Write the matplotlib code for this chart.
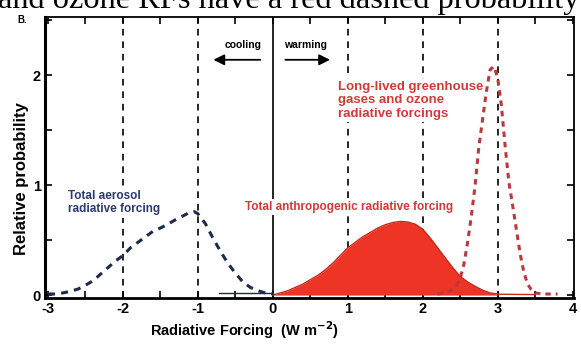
import numpy as np
import matplotlib
matplotlib.use('Agg')
import matplotlib.pyplot as plt

plt.rcParams['font.family'] = ['Liberation Sans', 'DejaVu Sans']
plt.rcParams['axes.unicode_minus'] = False

# aerosol forcing pdf
aer_x = [-3.0, -2.9, -2.8, -2.7, -2.6, -2.5, -2.4, -2.3, -2.2, -2.1, -2.0,
         -1.9, -1.8, -1.7, -1.6, -1.5, -1.4, -1.3, -1.2, -1.1, -1.05, -1.0,
         -0.9, -0.8, -0.7, -0.6, -0.5, -0.4, -0.3, -0.2, -0.1, 0.0]
aer_y = [0.01, 0.01, 0.02, 0.035, 0.055, 0.09, 0.13, 0.19, 0.25, 0.31, 0.36,
         0.43, 0.48, 0.53, 0.58, 0.61, 0.645, 0.685, 0.72, 0.755, 0.76, 0.74,
         0.65, 0.52, 0.40, 0.29, 0.20, 0.12, 0.07, 0.04, 0.02, 0.01]
aer_tail_x = [-0.72, 0.0]
aer_tail_y = [0.015, 0.015]

# total anthropogenic forcing pdf
ant_x = [0.0, 0.1, 0.2, 0.3, 0.4, 0.5, 0.6, 0.7, 0.8, 0.9, 1.0, 1.1, 1.2,
         1.3, 1.4, 1.5, 1.6, 1.7, 1.8, 1.9, 2.0, 2.1, 2.2, 2.3, 2.4, 2.5,
         2.6, 2.7, 2.8, 2.9, 3.0]
ant_y = [0.0, 0.02, 0.04, 0.07, 0.10, 0.14, 0.18, 0.23, 0.29, 0.36, 0.43,
         0.48, 0.53, 0.57, 0.61, 0.64, 0.66, 0.67, 0.665, 0.645, 0.60, 0.52,
         0.43, 0.34, 0.25, 0.17, 0.12, 0.08, 0.045, 0.02, 0.01]
ant_tail_x = [3.0, 3.5]
ant_tail_y = [0.008, 0.005]

# long-lived greenhouse gases and ozone pdf
ghg_x = [2.2, 2.3, 2.4, 2.45, 2.5, 2.55, 2.6, 2.65, 2.7, 2.75, 2.8, 2.85,
         2.9, 2.95, 3.0, 3.05, 3.1, 3.15, 3.2, 3.25, 3.3, 3.35, 3.4, 3.45,
         3.5, 3.6, 3.8]
ghg_y = [0.01, 0.02, 0.05, 0.08, 0.15, 0.28, 0.48, 0.72, 1.0, 1.35, 1.6, 1.85,
         2.05, 2.08, 1.98, 1.73, 1.36, 1.03, 0.82, 0.6, 0.38, 0.21, 0.1, 0.05,
         0.02, 0.01, 0.01]

ref_lines = [-2, -1, 1, 2, 3]
xticks = [-3, -2, -1, 0, 1, 2, 3, 4]
yticks = [0, 1, 2]

red_fill = '#ee3424'
red_edge = '#c42a1e'
red_dash = '#b83a3c'
red_text = '#d2393a'
navy = '#1d2a4c'
navy_text = '#2b3a6e'

fig = plt.figure(figsize=(5.81, 3.45), dpi=100)
ax = fig.add_axes([0.0775, 0.136, 0.9105, 0.815])

for xv in ref_lines:
    ax.axvline(xv, color='black', lw=1.2, ls=(0, (4, 3.5)), zorder=1)
ax.axvline(0, color='black', lw=1.2, zorder=1)

ax.fill_between(ant_x, ant_y, 0, color=red_fill, lw=0, zorder=3)
ax.plot(ant_x, ant_y, color=red_edge, lw=1.0, zorder=4)
ax.plot(ant_tail_x, ant_tail_y, color=red_edge, lw=1.0, zorder=4)

ax.plot(aer_x, aer_y, color=navy, lw=2.2, ls=(0, (2.3, 2.0)), zorder=4)
ax.plot(aer_tail_x, aer_tail_y, color=navy, lw=1.0, zorder=4)

ax.plot(ghg_x, ghg_y, color=red_dash, lw=2.2, ls=(0, (1.8, 1.6)), zorder=5)

box = dict(facecolor='white', edgecolor='none', pad=1.5)
ax.text(-2.73, 0.84, 'Total aerosol\nradiative forcing', color=navy_text,
        fontsize=8.5, fontweight='bold', linespacing=1.15, va='center',
        bbox=box, zorder=2)
ax.text(-0.37, 0.8, 'Total anthropogenic radiative forcing', color=red_text,
        fontsize=8.5, fontweight='bold', va='center', bbox=box, zorder=2)
ax.text(0.87, 1.77, 'Long-lived greenhouse\ngases and ozone\nradiative forcings',
        color=red_text, fontsize=9.5, fontweight='bold', linespacing=1.2,
        va='center', bbox=box, zorder=2)

ax.text(-0.4, 2.27, 'cooling', fontsize=7.5, fontweight='bold', ha='center', va='center')
ax.text(0.43, 2.27, 'warming', fontsize=7.5, fontweight='bold', ha='center', va='center')
ax.annotate('', xy=(-0.83, 2.14), xytext=(-0.13, 2.14),
            arrowprops=dict(arrowstyle='-|>', color='black', lw=1.3, mutation_scale=16))
ax.annotate('', xy=(0.8, 2.14), xytext=(0.13, 2.14),
            arrowprops=dict(arrowstyle='-|>', color='black', lw=1.3, mutation_scale=16))

ax.set_xlim(-3.04, 4.02)
ax.set_ylim(-0.027, 2.53)
ax.set_xticks(xticks)
ax.set_yticks(yticks)
ax.set_xticks(np.arange(-3, 4.01, 0.5), minor=True)
ax.set_yticks(np.arange(0, 2.51, 0.5), minor=True)
ax.tick_params(which='both', direction='in', top=True, right=True, width=1.2)
ax.tick_params(which='major', length=5, labelsize=10.5, pad=3)
ax.tick_params(which='minor', length=5)
for lab in ax.get_xticklabels() + ax.get_yticklabels():
    lab.set_fontweight('bold')
for sp in ax.spines.values():
    sp.set_linewidth(1.3)
ax.spines['left'].set_linewidth(2.2)
ax.spines['bottom'].set_linewidth(2.0)

ax.set_xlabel('Radiative Forcing  (W m$^{\\mathbf{-2}}$)', fontsize=10.5, fontweight='bold')
ax.xaxis.set_label_coords(0.378, -0.075)
ax.set_ylabel('Relative probability', fontsize=12, fontweight='bold')
ax.yaxis.set_label_coords(-0.031, 0.424)

fig.text(0.038, 0.942, 'B.', fontsize=7, fontweight='bold', ha='center', va='center')
fig.text(-0.003, 1 - 8 / 345, 'and ozone RFs have a red dashed probability',
         family='Liberation Serif', fontsize=23.3, ha='left', va='baseline')

fig.savefig('out.png', dpi=100)
